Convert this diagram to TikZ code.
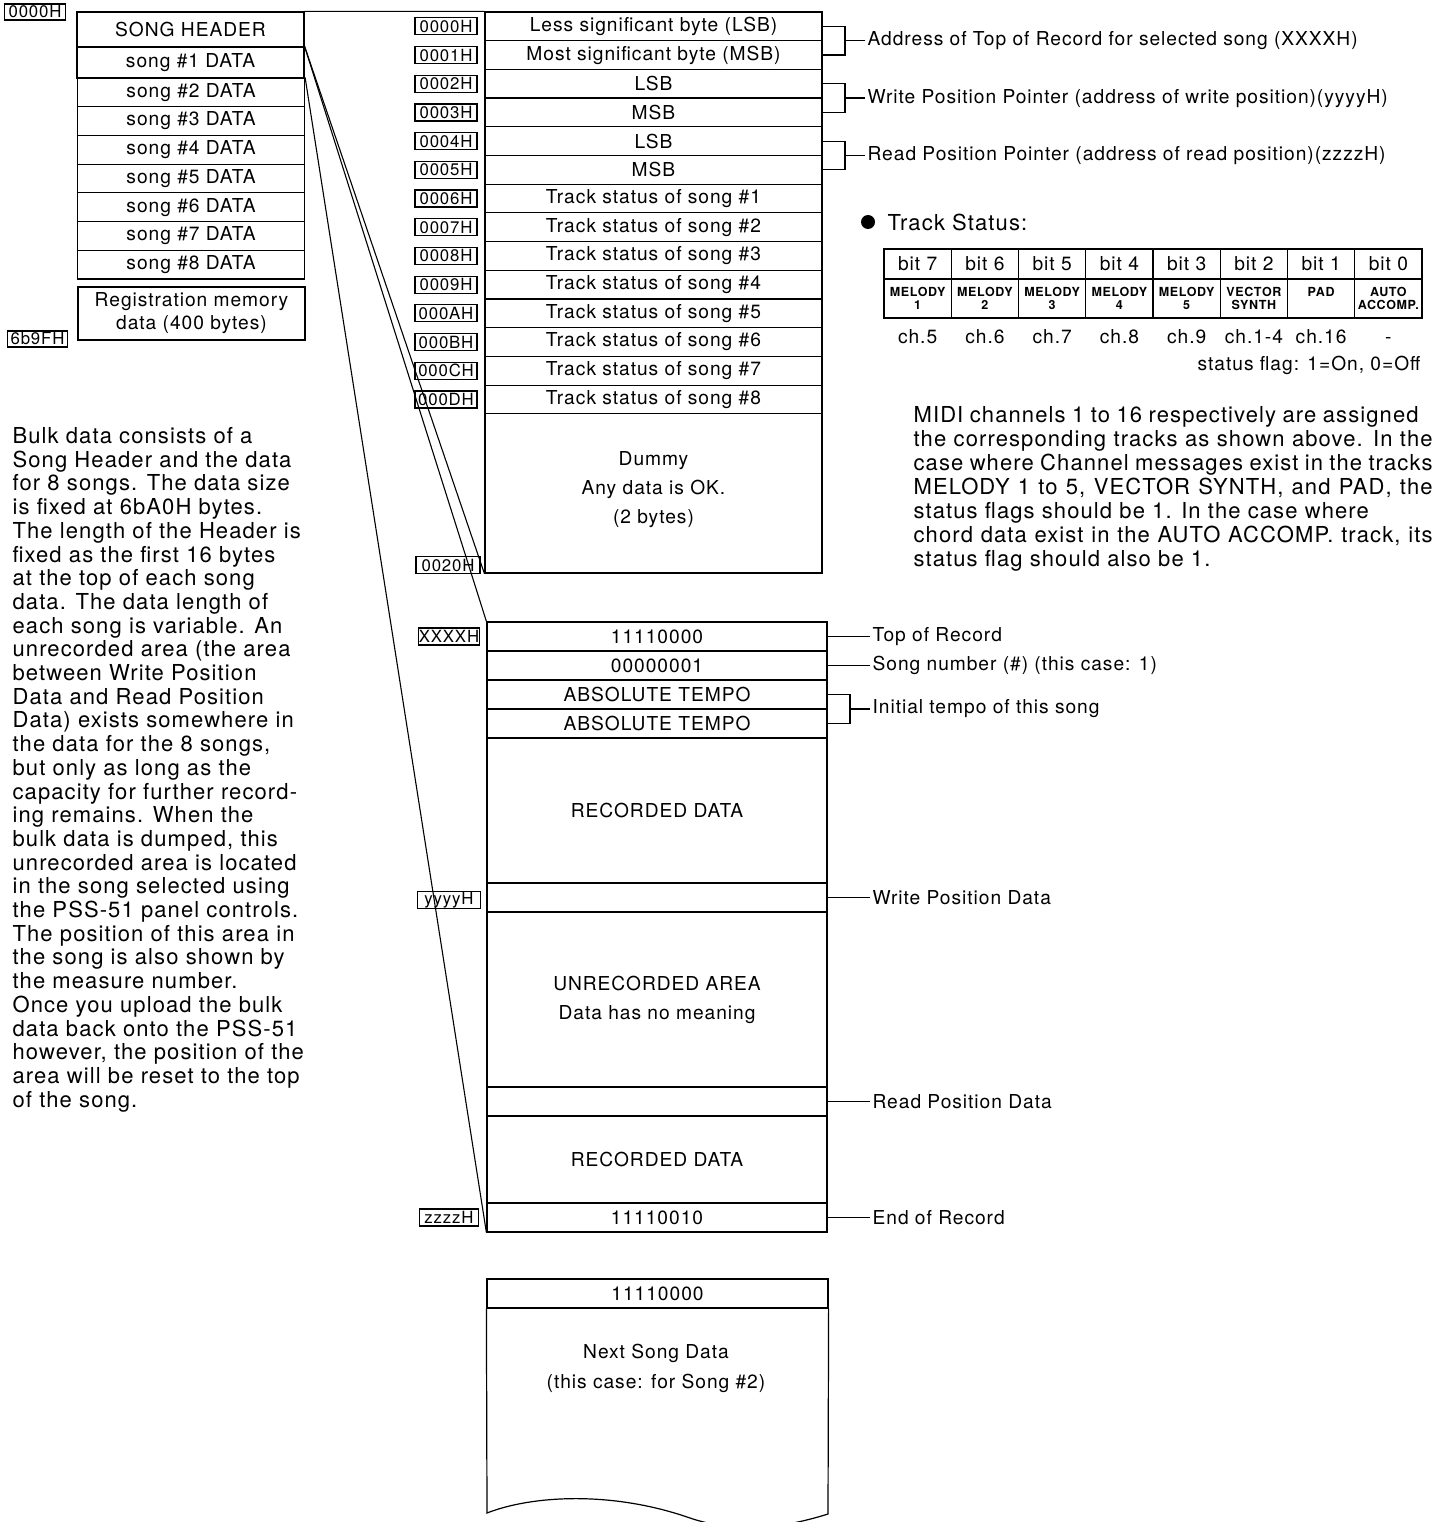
\documentclass[tikz,border=0pt]{standalone}
\usepackage{fontspec}
\setmainfont{TeX Gyre Heros}[LetterSpace=5.0]
\newcommand\fA{\fontsize{19.2}{22}\selectfont}
\newcommand\fP{\fontsize{22}{24}\selectfont}
\newcommand\fAd{\fontsize{16.8}{18}\selectfont}
\newcommand\fSm{\fontsize{12.5}{13.5}\selectfont\bfseries}
\begin{document}
\begin{tikzpicture}[x=1pt,y=-1pt,line width=1.2pt,
  box/.style={draw, inner sep=0pt, font=\fA, align=center},
  addr/.style={draw, line width=1.2pt, fill=white, inner sep=0pt, minimum width=62pt, minimum height=17pt, font=\fAd},
  ann/.style={anchor=west, inner sep=2pt, font=\fA},
  ptext/.style={anchor=base west, inner sep=0pt, font=\fP},
  txt/.style={inner sep=0pt, font=\fA, align=center},
  cell/.style={draw, inner sep=0pt, minimum width=67.25pt, align=center},
  conn/.style={line width=1.1pt}
]
\useasboundingbox (0,0) rectangle (1434,1522);

% ---------- left column ----------
\node[box, minimum width=227pt, minimum height=35pt] (hdr) at (190.5,29.5) {SONG HEADER};
\node[box, minimum width=227pt, minimum height=31pt] (s1) at (190.5,62.5) {song \#1 DATA};
\foreach \k in {2,...,8} {
  \pgfmathsetmacro\yy{78+28.71*(\k-2)+14.355}
  \node[box, minimum width=227pt, minimum height=28.71pt] (s\k) at (191,\yy) {song \#\k\ DATA};
}
\node[box, minimum width=227pt, minimum height=53pt, font={\fontsize{19.2}{23}\selectfont}] (reg) at (191.5,313.5) {Registration memory\\data (400 bytes)};
\node[addr, minimum width=61pt, minimum height=16pt] (a0000) at (35,12) {0000H};
\node[addr, minimum width=60pt, minimum height=16pt] (a6b9f) at (37.5,339) {6b9FH};

% ---------- header detail table ----------
\foreach \t [count=\i from 0] in {{Less significant byte (LSB)},{Most significant byte (MSB)},LSB,MSB,LSB,MSB} {
  \pgfmathsetmacro\yy{12+28.7*\i+14.35}
  \node[box, minimum width=337pt, minimum height=28.7pt] (r\i) at (653.5,\yy) {\t};
}
\foreach \k in {1,...,8} {
  \pgfmathtruncatemacro\ii{5+\k}
  \pgfmathsetmacro\yy{12+28.7*\ii+14.35}
  \node[box, minimum width=337pt, minimum height=28.7pt] (r\ii) at (653.5,\yy) {Track status of song \#\k};
}
\foreach \a [count=\i from 0] in {0000H,0001H,0002H,0003H,0004H,0005H,0006H,0007H,0008H,0009H,000AH,000BH,000CH,000DH} {
  \pgfmathsetmacro\yy{12+28.7*\i+14.35}
  \node[addr] (ad\i) at (446,\yy) {\a};
}
\node[box, minimum width=337pt, minimum height=159.2pt] (dummy) at (653.5,493.4) {};
\node[txt, font={\fontsize{19.2}{29}\selectfont}] (dummytxt) at (653.5,490) {Dummy\\Any data is OK.\\(2 bytes)};
\node[addr, minimum width=64pt] (a0020) at (448,565) {0020H};

% ---------- song record ----------
\node[box, minimum width=340pt, minimum height=29pt] (rec0) at (657,636.5) {11110000};
\node[box, minimum width=340pt, minimum height=29pt] (rec1) at (657,665.5) {00000001};
\node[box, minimum width=340pt, minimum height=29pt] (rec2) at (657,694.5) {ABSOLUTE TEMPO};
\node[box, minimum width=340pt, minimum height=29pt] (rec3) at (657,723.5) {ABSOLUTE TEMPO};
\node[box, minimum width=340pt, minimum height=145pt] (rec4) at (657,810.5) {RECORDED DATA};
\node[box, minimum width=340pt, minimum height=29pt] (rec5) at (657,897.5) {};
\node[box, minimum width=340pt, minimum height=175pt, font={\fontsize{19.2}{29}\selectfont}] (rec6) at (657,999.5) {UNRECORDED AREA\\Data has no meaning};
\node[box, minimum width=340pt, minimum height=29pt] (rec7) at (657,1101.5) {};
\node[box, minimum width=340pt, minimum height=87pt] (rec8) at (657,1159.5) {RECORDED DATA};
\node[box, minimum width=340pt, minimum height=29pt] (rec9) at (657,1217.5) {11110010};
\node[addr, minimum width=59pt] (aX) at (449,636.5) {XXXXH};
\node[addr, minimum width=63pt] (aY) at (449,900) {yyyyH};
\node[addr, minimum width=59pt] (aZ) at (449,1217.5) {zzzzH};

% ---------- next song ----------
\node[box, minimum width=341pt, minimum height=29pt] (ns0) at (657.5,1293.5) {11110000};
\coordinate (nsBL) at (487,1513);
\coordinate (nsBR) at (828,1514);
\draw (ns0.south west) -- (nsBL) .. controls (530,1496) and (610,1490) .. (690,1518) .. controls (740,1535) and (790,1526) .. (nsBR) -- (ns0.south east);
\node[txt, font={\fontsize{19.2}{30}\selectfont}] (nstxt) at (656,1368) {Next Song Data\\(this case: for Song \#2)};

% ---------- connectors ----------
\draw[conn] (hdr.north east) -- (r0.north west);
\draw[conn] (s1.north east) -- (dummy.south west);
\draw[conn] (s1.north east) -- (rec0.north west);
\draw[conn] (s2.north east) -- (rec9.south west);

% ---------- header annotations ----------
\coordinate (bk1) at (845,40.7);
\coordinate (bk2) at (845,98.1);
\coordinate (bk3) at (845,155.5);
\draw (r0.east) -| (bk1) |- (r1.east);
\draw (r2.east) -| (bk2) |- (r3.east);
\draw (r4.east) -| (bk3) |- (r5.east);
\node[ann] (tA) at (865,40.7) {Address of Top of Record for selected song (XXXXH)};
\node[ann] (tB) at (865,98.1) {Write Position Pointer (address of write position)(yyyyH)};
\node[ann] (tC) at (865,155.5) {Read Position Pointer (address of read position)(zzzzH)};
\draw (bk1) -- (tA.west);
\draw (bk2) -- (tB.west);
\draw (bk3) -- (tC.west);

% ---------- record annotations ----------
\node[ann] (tTop) at (870,636.5) {Top of Record};
\node[ann] (tSong) at (870,665.5) {Song number (\#) (this case: 1)};
\coordinate (bk4) at (850,709);
\node[ann] (tTempo) at (870,709) {Initial tempo of this song};
\node[ann] (tW) at (870,897.5) {Write Position Data};
\node[ann] (tR) at (870,1101.5) {Read Position Data};
\node[ann] (tE) at (870,1217.5) {End of Record};
\draw (rec0.east) -- (tTop.west);
\draw (rec1.east) -- (tSong.west);
\draw (rec2.east) -| (bk4) |- (rec3.east);
\draw (bk4) -- (tTempo.west);
\draw (rec5.east) -- (tW.west);
\draw (rec7.east) -- (tR.west);
\draw (rec9.east) -- (tE.west);

% ---------- track status ----------
\node[circle, fill, inner sep=0pt, minimum size=14pt] (bullet) at (868,222) {};
\node[anchor=west, inner sep=0pt, font=\fP] (tsTitle) at (887,222) {Track Status:};
\foreach \b [count=\i from 0] in {7,6,5,4,3,2,1,0} {
  \pgfmathsetmacro\xx{884+67.25*\i+33.625}
  \node[cell, minimum height=30pt, font=\fA] (bit\i) at (\xx,264) {bit \b};
}
\foreach \t [count=\i from 0] in {{MELODY\\1},{MELODY\\2},{MELODY\\3},{MELODY\\4},{MELODY\\5},{VECTOR\\SYNTH},{PAD\\\phantom{1}},{AUTO\\ACCOMP.}} {
  \pgfmathsetmacro\xx{884+67.25*\i+33.625}
  \node[cell, minimum height=39pt, font=\fSm] (trk\i) at (\xx,298.5) {\t};
}
\foreach \t [count=\i from 0] in {ch.5,ch.6,ch.7,ch.8,ch.9,ch.1-4,ch.16,-} {
  \pgfmathsetmacro\xx{884+67.25*\i+33.625}
  \node[txt, anchor=base] (ch\i) at (\xx,343) {\t};
}
\node[anchor=base east, inner sep=0pt, font=\fA] (flag) at (1421,370) {status flag: 1=On, 0=Off};

% ---------- right paragraph ----------
\node[ptext] (mp1) at (913,422.5) {\makebox[505pt][s]{MIDI channels 1 to 16 respectively are assigned}};
\node[ptext] (mp2) at (913,446.5) {\makebox[519pt][s]{the corresponding tracks as shown above.  In the}};
\node[ptext] (mp3) at (913,470.5) {\makebox[519pt][s]{case where Channel messages exist in the tracks}};
\node[ptext] (mp4) at (913,494.5) {\makebox[519pt][s]{MELODY 1 to 5, VECTOR SYNTH, and PAD, the}};
\node[ptext] (mp5) at (913,518.5) {status flags should be 1.  In the case where};
\node[ptext] (mp6) at (913,542.5) {\makebox[519pt][s]{chord data exist in the AUTO ACCOMP. track, its}};
\node[ptext] (mp7) at (913,566.5) {status flag should also be 1.};

% ---------- left paragraph ----------
\foreach \t [count=\i from 0] in {
  {Bulk data consists of a},
  {Song Header and the data},
  {for 8 songs.  The data size},
  {is fixed at 6bA0H bytes.},
  {The length of the Header is},
  {fixed as the first 16 bytes},
  {at the top of each song},
  {data.  The data length of},
  {each song is variable.  An},
  {unrecorded area (the area},
  {between Write Position},
  {Data and Read Position},
  {Data) exists somewhere in},
  {the data for the 8 songs,},
  {but only as long as the},
  {capacity for further record-},
  {ing remains.  When the},
  {bulk data is dumped, this},
  {unrecorded area is located},
  {in the song selected using},
  {the PSS-51 panel controls.},
  {The position of this area in},
  {the song is also shown by},
  {the measure number.},
  {Once you upload the bulk},
  {data back onto the PSS-51},
  {however, the position of the},
  {area will be reset to the top},
  {of the song.}} {
  \pgfmathsetmacro\yy{443.5+23.7*\i}
  \node[ptext] (lp\i) at (12,\yy) {\t};
}
\end{tikzpicture}
\end{document}
